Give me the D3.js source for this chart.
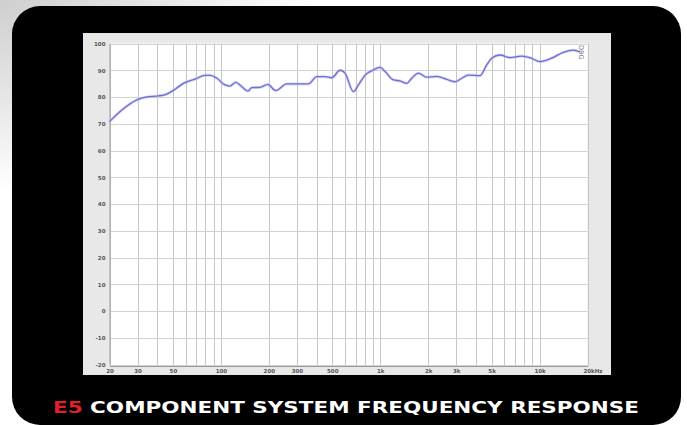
<!DOCTYPE html>
<html>
<head>
<meta charset="utf-8">
<script src="https://cdn.jsdelivr.net/npm/d3@7/dist/d3.min.js"></script>
<style>
  html, body { margin: 0; padding: 0; background: #fff; }
  svg { display: block; }
</style>
</head>
<body>
<div id="viewportContainer"></div>
<script>
/* --- ビューポート --- */
const viewport = {width: 687, height: 425};
const panel = {x: 83, y: 33, width: 528, height: 342};
const plot = {left: 109.5, right: 587.5, top: 43.5, bottom: 364.5};

/* --- データセット --- */
const freqs = [20, 23.9, 29.7, 35.1, 40.6, 45.8, 51.6, 58.2, 69, 79.7, 85.7, 94.4, 106, 114, 124, 135, 148, 156, 176, 197,
    221, 259, 292, 354, 400, 451, 497, 560, 602, 679, 730, 804, 906, 998, 1074, 1210, 1333, 1468, 1578,
    1738, 1960, 2264, 2617, 2950, 3250, 3576, 4233, 4662, 5012, 5653, 6530, 7730, 8710, 10070, 11920, 14100, 16290, 17950];
const dbValues = [70.8, 75.1, 78.9, 80.1, 80.4, 81.1, 82.9, 85.1, 86.7, 88.1, 88.1, 87.0, 84.5, 84.1, 85.5, 83.9, 82.2, 83.5, 83.6, 84.7,
    82.4, 84.9, 84.9, 84.9, 87.6, 87.6, 87.2, 90.0, 88.9, 82.0, 84.5, 88.2, 90.1, 91.1, 89.5, 86.4, 86.0, 85.1, 87.0,
    88.9, 87.4, 87.7, 86.6, 85.7, 87.0, 88.2, 88.0, 92.0, 94.5, 95.7, 94.7, 95.3, 94.7, 93.2, 94.5, 96.7, 97.5, 96.9];

const gridFreqs = [20, 30, 40, 50, 60, 70, 80, 90, 100, 200, 300, 400, 500, 600, 700, 800, 900,
    1000, 2000, 3000, 4000, 5000, 6000, 7000, 8000, 9000, 10000, 20000];
const xTickValues = [20, 30, 50, 100, 200, 300, 500, 1000, 2000, 3000, 5000, 10000, 20000];
const xTickLabels = ["20", "30", "50", "100", "200", "300", "500", "1k", "2k", "3k", "5k", "10k", "20kHz"];
const yTickValues = [100, 90, 80, 70, 60, 50, 40, 30, 20, 10, 0, -10, -20];

const titleRed = "E5";
const titleWhite = " COMPONENT SYSTEM FREQUENCY RESPONSE";

/*--- SVG作成 ---*/
const svg = d3.select("#viewportContainer")
    .append("svg")
    .attr("width", viewport.width)
    .attr("height", viewport.height)
    .attr("viewBox", "0 0 " + viewport.width + " " + viewport.height);

const defs = svg.append("defs");
const bgGrad = defs.append("radialGradient")
    .attr("id", "bgGrad")
    .attr("cx", 0).attr("cy", 0).attr("r", 0.45);
bgGrad.append("stop").attr("offset", "0%").attr("stop-color", "#cfcfcf");
bgGrad.append("stop").attr("offset", "55%").attr("stop-color", "#e8e8e8");
bgGrad.append("stop").attr("offset", "100%").attr("stop-color", "#ffffff");

svg.append("rect")
    .attr("width", viewport.width)
    .attr("height", viewport.height)
    .attr("fill", "url(#bgGrad)");

/*--- 黒い背景 ---*/
svg.append("rect")
    .attr("x", 12).attr("y", 6)
    .attr("width", 669).attr("height", 419)
    .attr("rx", 28).attr("ry", 28)
    .attr("fill", "#000");

/*--- グレーパネル ---*/
svg.append("rect")
    .attr("x", panel.x).attr("y", panel.y)
    .attr("width", panel.width).attr("height", panel.height)
    .attr("fill", "#e8e8e8");

svg.append("rect")
    .attr("x", plot.left).attr("y", plot.top)
    .attr("width", plot.right - plot.left).attr("height", plot.bottom - plot.top + 1.5)
    .attr("fill", "#fff");

/*--- スケール ---*/
const xScale = d3.scaleLog()
    .domain([20, 20000])
    .range([plot.left, plot.right]);

const yScale = d3.scaleLinear()
    .domain([-20, 100])
    .range([plot.bottom, plot.top]);

/*--- グリッド ---*/
const gridContainer = svg.append("g").attr("id", "gridContainer");

gridContainer.selectAll(".vgrid")
    .data(gridFreqs)
    .enter()
    .append("line")
    .attr("class", "vgrid")
    .attr("x1", d => Math.round(xScale(d)) + 0.5)
    .attr("x2", d => Math.round(xScale(d)) + 0.5)
    .attr("y1", plot.top)
    .attr("y2", plot.bottom + 1.5)
    .attr("stroke", "#c6c6c6")
    .attr("stroke-width", 1);

gridContainer.selectAll(".hgrid")
    .data(yTickValues)
    .enter()
    .append("line")
    .attr("class", "hgrid")
    .attr("x1", plot.left)
    .attr("x2", plot.right)
    .attr("y1", d => Math.round(yScale(d)) + 0.5)
    .attr("y2", d => Math.round(yScale(d)) + 0.5)
    .attr("stroke", "#d2d2d2")
    .attr("stroke-width", 1);

/*--- 軸 ---*/
const yAxis = d3.axisLeft(yScale)
    .tickValues(yTickValues)
    .tickFormat(d => String(d))
    .tickSize(0).tickPadding(4);
const yAxisContainer = svg.append("g")
    .attr("transform", "translate(" + plot.left + ",0)")
    .call(yAxis);
yAxisContainer.select(".domain").attr("stroke", "#999");
yAxisContainer.selectAll("text")
    .attr("font-family", "DejaVu Sans")
    .attr("font-size", 5.5)
    .attr("font-weight", "bold")
    .attr("fill", "#555");

const xAxis = d3.axisBottom(xScale)
    .tickValues(xTickValues)
    .tickFormat((d, i) => xTickLabels[i])
    .tickSize(0).tickPadding(3);
const xAxisContainer = svg.append("g")
    .attr("transform", "translate(0," + (plot.bottom + 1.5) + ")")
    .call(xAxis);
xAxisContainer.select(".domain").attr("stroke", "#999");
xAxisContainer.selectAll("text")
    .attr("font-family", "DejaVu Sans")
    .attr("font-size", 5.5)
    .attr("font-weight", "bold")
    .attr("fill", "#555")
    .attr("dx", (d, i) => i === xTickLabels.length - 1 ? 5 : 0);

/*--- 周波数特性カーブ ---*/
const line = d3.line()
    .x((d, i) => xScale(freqs[i]))
    .y(d => yScale(d))
    .curve(d3.curveMonotoneX);

svg.append("path")
    .datum(dbValues)
    .attr("d", line)
    .attr("fill", "none")
    .attr("stroke", "#bcbcf0")
    .attr("stroke-width", 3)
    .attr("opacity", 0.6);

svg.append("path")
    .datum(dbValues)
    .attr("d", line)
    .attr("fill", "none")
    .attr("stroke", "#6f6fd2")
    .attr("stroke-width", 1.3);

/*--- 右上の縦書きラベル ---*/
svg.append("text")
    .attr("transform", "translate(579,45) rotate(90)")
    .attr("font-family", "DejaVu Sans")
    .attr("font-size", 6.5)
    .attr("fill", "#777")
    .text("DRG");

/*--- タイトル ---*/
const title = svg.append("text")
    .attr("x", 53)
    .attr("y", 412.5)
    .attr("font-family", "DejaVu Sans")
    .attr("font-weight", "bold")
    .attr("font-size", 15)
    .attr("textLength", 586)
    .attr("lengthAdjust", "spacingAndGlyphs");
title.append("tspan").attr("fill", "#e0202a").text(titleRed);
title.append("tspan").attr("fill", "#fff").text(titleWhite);
</script>
</body>
</html>
